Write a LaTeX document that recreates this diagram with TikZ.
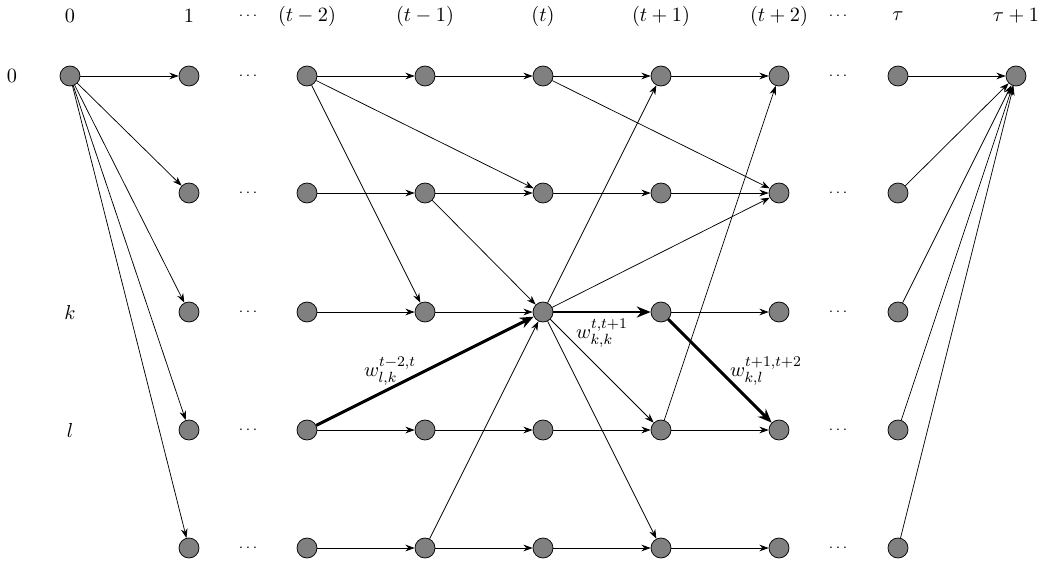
\documentclass[tikz,border=0pt]{standalone}
\usetikzlibrary{arrows.meta}
\newcommand{\mydots}{{\fontsize{8}{10}\selectfont$\cdots$}}
\begin{document}
\begin{tikzpicture}[x=0.019cm,y=-0.019cm,
  font=\fontsize{11.3}{13.5}\selectfont,
  nd/.style={circle,draw=black,fill=black!50,minimum size=0.38cm,inner sep=0pt},
  ed/.style={-{Stealth[length=5pt,width=3.6pt]},thin},
  bed/.style={-{Stealth[length=7.5pt,width=6pt]},line width=1.6pt},
  lbl/.style={inner sep=1pt}]
\useasboundingbox (0,0) rectangle (1047,564);
% column labels
\foreach \x/\t/\n in {70/0/a,189/1/b,307/(t-2)/d,425/(t-1)/e,543/(t)/f,661/(t+1)/g,779/(t+2)/h,898/\tau/j,1016/\tau+1/k}
  \node[lbl] (top\n) at (\x,16) {$\t$};
\node[lbl] (topc) at (248,16) {\mydots};
\node[lbl] (topi) at (838,16) {\mydots};
% row labels
\node[lbl] (r0) at (12,76) {$0$};
\node[lbl] (rk) at (70,312) {$k$};
\node[lbl] (rl) at (70,430) {$l$};
% nodes
\node[nd] (n00) at (70,76) {};
\foreach \c/\x in {1/189,2/307,3/425,4/543,5/661,6/779,7/898}
  \foreach \r/\y in {0/76,1/193,2/312,3/430,4/548}
    \node[nd] (n\c\r) at (\x,\y) {};
\node[nd] (n80) at (1016,76) {};
% dots
\foreach \r/\y in {0/76,1/193,2/312,3/430,4/548}{
  \node[lbl] (da\r) at (248,\y) {\mydots};
  \node[lbl] (db\r) at (838,\y) {\mydots};
}
% edges from 0
\foreach \r in {0,...,4} \draw[ed] (n00) -- (n1\r);
% horizontal
\foreach \r in {0,...,4} {
  \draw[ed] (n2\r) -- (n3\r);
  \draw[ed] (n3\r) -- (n4\r);
  \draw[ed] (n5\r) -- (n6\r);
  \draw[ed] (n7\r) -- (n80);
}
\foreach \r in {0,1,3,4} \draw[ed] (n4\r) -- (n5\r);
% diagonals
\draw[ed] (n20) -- (n41);
\draw[ed] (n20) -- (n32);
\draw[ed] (n40) -- (n61);
\draw[ed] (n31) -- (n42);
\draw[ed] (n42) -- (n50);
\draw[ed] (n42) -- (n61);
\draw[ed] (n42) -- (n53);
\draw[ed] (n42) -- (n54);
\draw[ed] (n34) -- (n42);
\draw[ed] (n53) -- (n60);
% bold path
\draw[bed] (n23) -- (n42);
\draw[bed] (n42) -- (n52);
\draw[bed] (n52) -- (n63);
% weights
\node[lbl] (w1) at (390,371) {$w_{l,k}^{t-2,t}$};
\node[lbl] (w2) at (602,333) {$w_{k,k}^{t,t+1}$};
\node[lbl] (w3) at (766,371) {$w_{k,l}^{t+1,t+2}$};
\end{tikzpicture}
\end{document}
